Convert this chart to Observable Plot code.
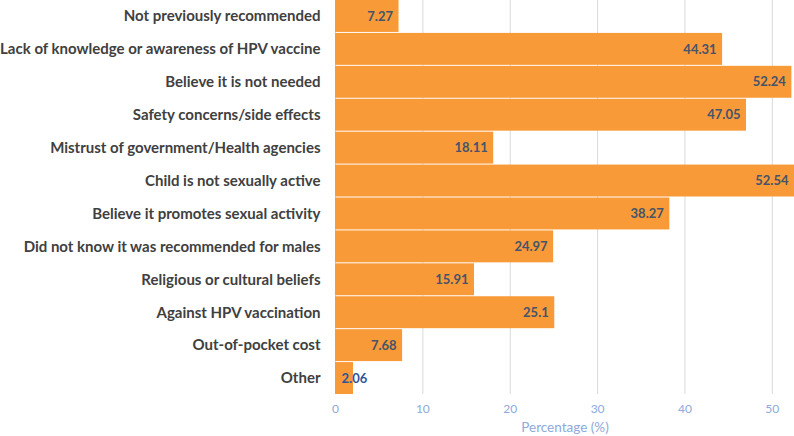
<!DOCTYPE html>
<html><head><meta charset="utf-8">
<script src="https://cdn.jsdelivr.net/npm/d3@7"></script>
<script src="https://cdn.jsdelivr.net/npm/@observablehq/plot@0.6"></script>
<style>
body{margin:0;background:#fff;}
#chart svg{display:block;}
</style>
</head><body><div id="chart"></div>
<script>
const categories = [
  "Not previously recommended",
  "Lack of knowledge or awareness of HPV vaccine",
  "Believe it is not needed",
  "Safety concerns/side effects",
  "Mistrust of government/Health agencies",
  "Child is not sexually active",
  "Believe it promotes sexual activity",
  "Did not know it was recommended for males",
  "Religious or cultural beliefs",
  "Against HPV vaccination",
  "Out-of-pocket cost",
  "Other"
];
const values = [7.27, 44.31, 52.24, 47.05, 18.11, 52.54, 38.27, 24.97, 15.91, 25.1, 7.68, 2.06];
const xTicks = [0, 10, 20, 30, 40, 50];

const data = categories.map((c, i) => ({category: c, value: values[i]}));
const big = data.filter(d => d.value >= 5);
const small = data.filter(d => d.value < 5);

const chart = Plot.plot({
  width: 794,
  height: 436,
  marginLeft: 335,
  marginRight: 0,
  marginTop: 0,
  marginBottom: 42,
  style: {fontFamily: "Lato, sans-serif", background: "#fff"},
  x: {domain: [0, 52.54], ticks: xTicks, grid: false, label: null},
  y: {domain: categories, paddingInner: 0.03, paddingOuter: 0, round: false, label: null},
  marks: [
    Plot.ruleX(xTicks, {stroke: "#d9d9d9", strokeWidth: 1}),
    Plot.barX(data, {y: "category", x: "value", fill: "#F99A38"}),
    Plot.text(big, {y: "category", x: "value", text: d => String(d.value), textAnchor: "end", dx: -6, fill: "#44546A", fontWeight: "bold", fontSize: 13}),
    Plot.text(small, {y: "category", x: 0, text: d => String(d.value), textAnchor: "start", dx: 6, fill: "#2F5597", fontWeight: "bold", fontSize: 13}),
    Plot.axisY({tickSize: 0, tickPadding: 15, fontSize: 15, fontWeight: "bold", color: "#404040", label: null}),
    Plot.axisX({ticks: xTicks, tickSize: 0, tickPadding: 10, fontSize: 12, color: "#8EA9DB", label: null}),
    Plot.text(["Percentage (%)"], {frameAnchor: "bottom", dy: 37, fill: "#8EA9DB", fontSize: 13.5})
  ]
});
document.getElementById("chart").appendChild(chart);
</script>
</body></html>
